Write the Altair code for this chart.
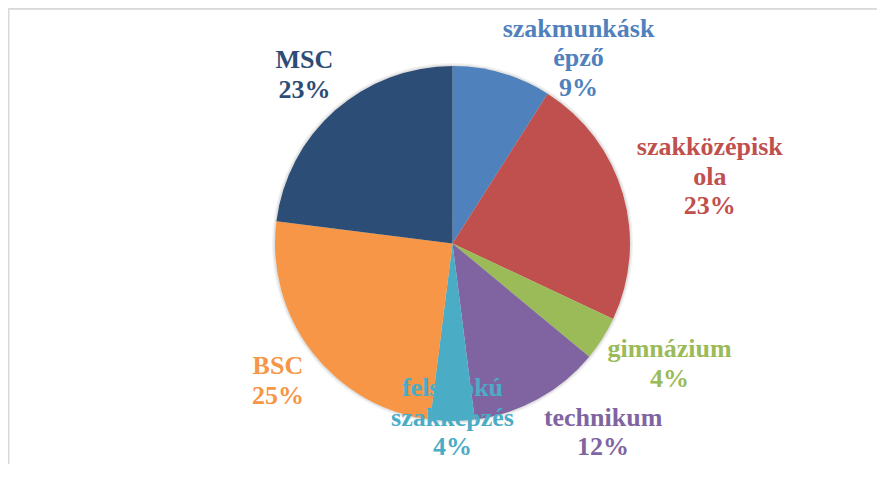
import altair as alt
import pandas as pd

# ---- data ----
categories = ["szakmunkásképző", "szakközépiskola", "gimnázium", "technikum",
              "felsőfokú szakképzés", "BSC", "MSC"]
values = [9, 23, 4, 12, 4, 25, 23]
label_lines = [["szakmunkásk", "épző"], ["szakközépisk", "ola"], ["gimnázium"],
               ["technikum"], ["felsőfokú", "szakképzés"], ["BSC"], ["MSC"]]
colors = ["#4F81BD", "#C0504D", "#9BBB59", "#8064A2", "#4BACC6", "#F79646", "#2C4D75"]

# ---- styling / layout constants ----
FS = 26
LH = 29.5
W, H = 849, 439
CX, CY = W / 2, H / 2
R_PIE = 177.5
R0 = 195
TOP = -10
BOT = 438
GAP = 30

# approximate Times-Bold advance widths (per 1000 em) for label text estimation
tw = {"s": 389, "z": 444, "a": 500, "k": 556, "m": 833, "u": 556, "n": 556, "á": 500,
      "é": 444, "p": 556, "ő": 500, "o": 500, "l": 278, "ö": 500, "i": 278, "g": 500,
      "t": 333, "e": 444, "c": 444, "h": 556, "f": 333, "ú": 556, "M": 944, "S": 556,
      "C": 722, "B": 667, "%": 1000, " ": 250}


def text_width(s):
    return sum(tw.get(ch, 500) for ch in s) * FS / 1000


rows = []
for i, (c, v, ll) in enumerate(zip(categories, values, label_lines)):
    lines = ll + [f"{v}%"]
    rows.append({
        "idx": i,
        "category": c,
        "value": v,
        "label": "\n".join(lines),
        "nlines": len(lines),
        "w": max(text_width(s) for s in lines),
    })
df = pd.DataFrame(rows)

color_scale = alt.Scale(domain=categories, range=colors)
base = alt.Chart(df)

shadow = base.mark_arc(outerRadius=R_PIE + 3, color="#000000", opacity=0.05).encode(
    theta=alt.Theta("sum(value):Q")
)
shadow2 = base.mark_arc(outerRadius=R_PIE + 1.5, color="#000000", opacity=0.07).encode(
    theta=alt.Theta("sum(value):Q")
)

pie = base.mark_arc(outerRadius=R_PIE, strokeWidth=0).encode(
    theta=alt.Theta("value:Q", stack=True),
    color=alt.Color("category:N", scale=color_scale, legend=None, sort=categories),
    order=alt.Order("idx:Q"),
)

labels = base.transform_window(
    cum="sum(value)", sort=[alt.SortField("idx")], frame=[None, 0]
).transform_joinaggregate(
    total="sum(value)"
).transform_calculate(
    theta="2*PI*(datum.cum - datum.value/2)/datum.total",
    hh=f"datum.nlines*{LH}/2",
    hw="datum.w/2",
).transform_calculate(
    y0=f"{CY} - ({R0} + datum.hh)*cos(datum.theta)",
    ymin=f"{TOP} + datum.hh",
    ymax=f"{BOT} - datum.hh",
).transform_calculate(
    slide="datum.y0 < datum.ymin",
    phi=f"acos(clamp(({CY} - datum.ymin)/({R0} + datum.hh), -1, 1))",
).transform_calculate(
    phis="sin(datum.theta) >= 0 ? datum.phi : 2*PI - datum.phi",
).transform_calculate(
    th2="datum.slide ? (datum.theta + datum.phis)/2 : datum.theta",
).transform_calculate(
    lx=f"{CX} + ({R0} + datum.hw)*sin(datum.th2)",
    lyc="datum.slide ? datum.ymin : min(datum.y0, datum.ymax)",
).transform_window(
    # neighbours, used to push overlapping labels apart
    window=[
        alt.WindowFieldDef(op="lead", field="lx", param=1, **{"as": "nx"}),
        alt.WindowFieldDef(op="lead", field="hw", param=1, **{"as": "nhw"}),
        alt.WindowFieldDef(op="lead", field="lyc", param=1, **{"as": "nyc"}),
        alt.WindowFieldDef(op="lead", field="hh", param=1, **{"as": "nhh"}),
        alt.WindowFieldDef(op="lag", field="lx", param=1, **{"as": "px"}),
        alt.WindowFieldDef(op="lag", field="hw", param=1, **{"as": "phw"}),
        alt.WindowFieldDef(op="lag", field="lyc", param=1, **{"as": "pyc"}),
        alt.WindowFieldDef(op="lag", field="hh", param=1, **{"as": "phh"}),
    ],
    sort=[alt.SortField("idx")],
).transform_calculate(
    lx2=(
        f"(sin(datum.th2) > 0.01 && isValid(datum.nx) && abs(datum.lyc - datum.nyc) < datum.hh + datum.nhh)"
        f" ? max(datum.lx, datum.nx + datum.nhw + datum.hw + {GAP})"
        f" : ((sin(datum.th2) < -0.01 && isValid(datum.px) && abs(datum.lyc - datum.pyc) < datum.hh + datum.phh)"
        f" ? min(datum.lx, datum.px - datum.phw - datum.hw - {GAP}) : datum.lx)"
    ),
    # first line position so the whole block is centred on lyc
    ly=f"datum.lyc - (datum.nlines - 1)*{LH}/2",
).mark_text(
    font="Liberation Serif", fontSize=FS, fontWeight="bold", lineBreak="\n",
    lineHeight=LH, align="center", baseline="middle",
).encode(
    x=alt.X("lx2:Q", scale=None, axis=None),
    y=alt.Y("ly:Q", scale=None, axis=None),
    text="label:N",
    color=alt.Color("category:N", scale=color_scale, legend=None),
)

frame_top = base.mark_rule(color="#d9d9d9", strokeWidth=1.2).encode(
    x=alt.value(-19.5), x2=alt.value(W), y=alt.value(-15.4)
)
frame_left = base.mark_rule(color="#d9d9d9", strokeWidth=1.2).encode(
    x=alt.value(-19.5), y=alt.value(-16), y2=alt.value(H + 1)
)

chart = alt.layer(shadow, shadow2, pie, labels, frame_top, frame_left).properties(
    width=W, height=H,
    autosize=alt.AutoSizeParams(type="none"),
    padding={"left": 20, "top": 16, "right": 0, "bottom": 1},
).configure_view(stroke=None)

chart.save("out.html", embed_options={"renderer": "svg", "actions": False})
